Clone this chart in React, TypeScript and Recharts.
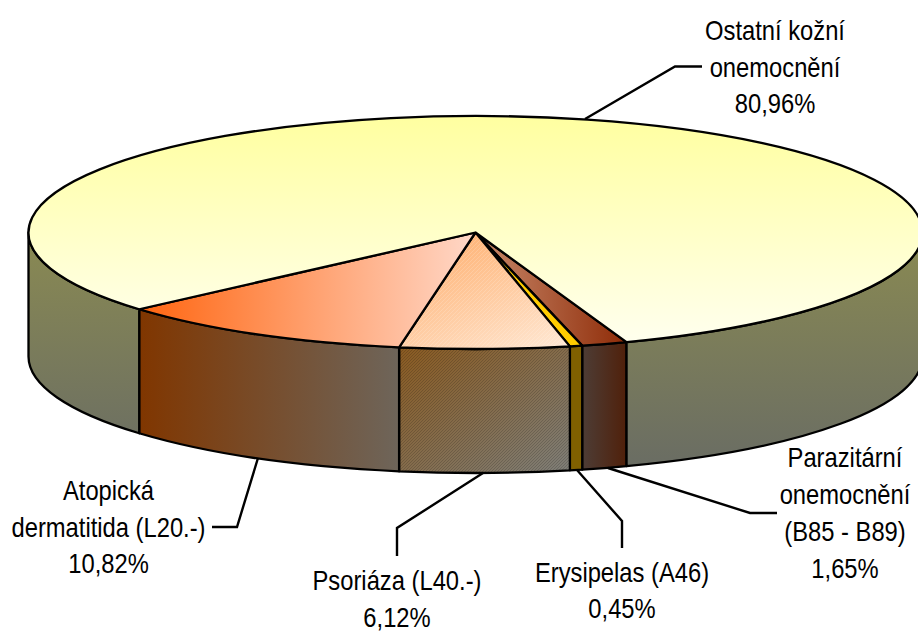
import React from "react";
import { PieChart, Pie } from "recharts";

const categories = [
  "Parazitární onemocnění (B85 - B89)",
  "Erysipelas (A46)",
  "Psoriáza (L40.-)",
  "Atopická dermatitida (L20.-)",
  "Ostatní kožní onemocnění",
];
const shares = [1.65, 0.45, 6.12, 10.82, 80.96];
const labelLines = [
  ["Parazitární", "onemocnění", "(B85 - B89)"],
  ["Erysipelas (A46)"],
  ["Psoriáza (L40.-)"],
  ["Atopická", "dermatitida (L20.-)"],
  ["Ostatní kožní", "onemocnění"],
];

const tableData = categories.map((name, i) => ({ name, value: shares[i] }));

// Layout and style, kept apart from the data
const W = 918;
const H = 631;
const CX = 475.5;
const CY = 232.5;
const RX = 447;
const RY = 116.5;
const DEPTH = 124;
const START_ANGLE = -70.25;
const LABEL_SCALE_X = 0.88;
const FONT_SIZE = 27;

const labelLayout = [
  { x: 845, y: 467, step: 37, line: "608,468 750,513 777,513" },
  { x: 622, y: 582, step: 35.5, line: "577,470 622,521 622,548" },
  { x: 397, y: 590, step: 37, line: "483,473 397,528 397,556" },
  { x: 108.5, y: 500, step: 36.5, line: "258,458 237,527 212,527" },
  { x: 775, y: 40, step: 36.5, line: "585,119 675,66.5 702,66.5" },
];

type Grad = { x1: number; y1: number; x2: number; y2: number; from: string; to: string };
const sliceStyles: { top: Grad; wall: Grad; hatch?: boolean }[] = [
  {
    top: { x1: 0, y1: 0, x2: 1, y2: 0, from: "#c98a6c", to: "#8f2c08" },
    wall: { x1: 0, y1: 0, x2: 1, y2: 0, from: "#4d3d36", to: "#50200a" },
  },
  {
    top: { x1: 0, y1: 0, x2: 1, y2: 0, from: "#ffcc00", to: "#ffcc00" },
    wall: { x1: 0, y1: 0, x2: 1, y2: 0, from: "#806000", to: "#806000" },
  },
  {
    top: { x1: 0.25, y1: 0, x2: 0.95, y2: 1, from: "#ffb070", to: "#ffe8d4" },
    wall: { x1: 0, y1: 0, x2: 1, y2: 1, from: "#8a5a20", to: "#7e7e78" },
    hatch: true,
  },
  {
    top: { x1: 0, y1: 0, x2: 1, y2: 0, from: "#ff6510", to: "#ffd8c8" },
    wall: { x1: 0, y1: 0, x2: 1, y2: 0, from: "#803600", to: "#6e655a" },
  },
  {
    top: { x1: 0, y1: 0, x2: 0, y2: 1, from: "#ffffa0", to: "#ffffee" },
    wall: { x1: 0, y1: 0, x2: 0, y2: 1, from: "#8a8a52", to: "#696c64" },
  },
];

const pt = (cx: number, cy: number, rx: number, ry: number, t: number) => {
  const a = (t * Math.PI) / 180;
  return [cx + rx * Math.cos(a), cy + ry * Math.sin(a)];
};

const arcTo = (rx: number, ry: number, p: number[], span: number, sweep: number) =>
  `A ${rx} ${ry} 0 ${span > 180 ? 1 : 0} ${sweep} ${p[0]} ${p[1]}`;

const GradientDef = ({ id, g }: { id: string; g: Grad }) => (
  <linearGradient id={id} x1={g.x1} y1={g.y1} x2={g.x2} y2={g.y2}>
    <stop offset="0" stopColor={g.from} />
    <stop offset="1" stopColor={g.to} />
  </linearGradient>
);

const TiltedSlice = (props: any) => {
  const { cx, cy, outerRadius, startAngle, endAngle, name, payload } = props;
  const idx = categories.indexOf(name ?? payload?.name);
  const style = sliceStyles[idx];
  const rx = outerRadius;
  const ry = (outerRadius * RY) / RX;
  // Library angles run counter-clockwise with y up; on screen t runs clockwise with y down.
  const t0 = -startAngle;
  const t1 = -endAngle;
  const a = pt(cx, cy, rx, ry, t0);
  const b = pt(cx, cy, rx, ry, t1);
  const topPath = `M ${cx} ${cy} L ${a[0]} ${a[1]} ${arcTo(rx, ry, b, t1 - t0, 1)} Z`;

  // The visible outer wall is the front half of the rim: t in [0,180] and [360,540]
  const spans: [number, number][] = [];
  for (const [lo, hi] of [[0, 180], [360, 540]]) {
    const s = Math.max(t0, lo);
    const e = Math.min(t1, hi);
    if (e > s) spans.push([s, e]);
  }
  const walls = spans.map(([s, e]) => {
    const p = pt(cx, cy, rx, ry, s);
    const q = pt(cx, cy, rx, ry, e);
    return (
      `M ${p[0]} ${p[1]} ${arcTo(rx, ry, q, e - s, 1)} L ${q[0]} ${q[1] + DEPTH} ` +
      `${arcTo(rx, ry, [p[0], p[1] + DEPTH], e - s, 0)} Z`
    );
  });
  const isBig = idx === 4;
  return (
    <g>
      <defs>
        <GradientDef id={`top-${idx}`} g={style.top} />
        {isBig ? (
          <linearGradient id={`wall-${idx}`} gradientUnits="userSpaceOnUse" x1={0} y1={cy} x2={0} y2={cy + ry + DEPTH}>
            <stop offset="0" stopColor={style.wall.from} />
            <stop offset="1" stopColor={style.wall.to} />
          </linearGradient>
        ) : (
          <GradientDef id={`wall-${idx}`} g={style.wall} />
        )}
        {style.hatch && (
          <>
            <pattern id="hatch-wall" width="3" height="3" patternUnits="userSpaceOnUse">
              <path d="M-1 1L1 -1M0 3L3 0M2 4L4 2" stroke="rgba(0,0,0,0.16)" strokeWidth="1" />
            </pattern>
            <pattern id="hatch-top" width="4" height="4" patternUnits="userSpaceOnUse">
              <path d="M-1 1L1 -1M0 4L4 0M3 5L5 3" stroke="rgba(255,255,255,0.16)" strokeWidth="1" />
            </pattern>
          </>
        )}
      </defs>
      {walls.map((d, i) => (
        <g key={i}>
          <path d={d} fill={`url(#wall-${idx})`} />
          {style.hatch && <path d={d} fill="url(#hatch-wall)" />}
          <path d={d} fill="none" stroke="#000" strokeWidth={2.3} strokeLinejoin="round" />
        </g>
      ))}
      <path d={topPath} fill={`url(#top-${idx})`} />
      {style.hatch && <path d={topPath} fill="url(#hatch-top)" />}
      <path d={topPath} fill="none" stroke="#000" strokeWidth={2.3} strokeLinejoin="round" />
    </g>
  );
};

const SliceLabel = (props: any) => {
  const { index, value } = props;
  const layout = labelLayout[index];
  const lines = [...labelLines[index], `${value.toFixed(2).replace(".", ",")}%`];
  return (
    <g>
      <polyline points={layout.line} fill="none" stroke="#000" strokeWidth={2.4} />
      {lines.map((line, i) => (
        <g key={i} transform={`translate(${layout.x} ${layout.y + i * layout.step}) scale(${LABEL_SCALE_X} 1)`}>
          <text
            x={0}
            y={0}
            textAnchor="middle"
            fontFamily="'Liberation Sans', Arial, sans-serif"
            fontSize={FONT_SIZE}
            fill="#000"
          >
            {line}
          </text>
        </g>
      ))}
    </g>
  );
};

export default function App() {
  return (
    <div style={{ position: "absolute", left: 0, top: 0, width: W, height: H, overflow: "hidden", background: "#fff" }}>
      <PieChart width={W} height={H} margin={{ top: 0, right: 0, bottom: 0, left: 0 }}>
        <Pie
          data={tableData}
          dataKey="value"
          nameKey="name"
          cx={CX}
          cy={CY}
          innerRadius={0}
          outerRadius={RX}
          startAngle={START_ANGLE}
          endAngle={START_ANGLE - 360}
          paddingAngle={0}
          stroke="none"
          shape={TiltedSlice}
          label={SliceLabel}
          labelLine={false}
          isAnimationActive={false}
        />
      </PieChart>
    </div>
  );
}
